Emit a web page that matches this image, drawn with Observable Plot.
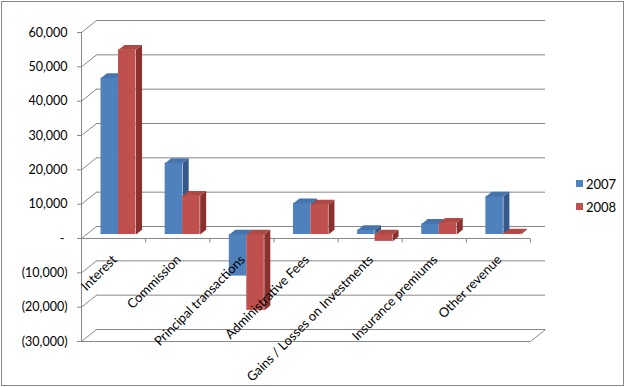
<!DOCTYPE html>
<html><head><meta charset="utf-8">
<script src="https://cdn.jsdelivr.net/npm/d3@7"></script>
<script src="https://cdn.jsdelivr.net/npm/@observablehq/plot@0.6"></script>
<style>
html,body{margin:0;padding:0;background:#fff;}
#wrap{position:relative;width:626px;height:387px;overflow:hidden;font-family:Lato,"Open Sans",sans-serif;background:#fff;}
#chart{position:absolute;left:0;top:0;}
#border{position:absolute;left:1px;top:1px;width:623px;height:385px;box-sizing:border-box;border:1px solid #878787;pointer-events:none;}
#legend{position:absolute;left:576px;top:172px;font-size:13px;color:#000;}
#legend .item{display:flex;align-items:center;height:23px;}
#legend .sw{width:7px;height:7px;margin-right:3px;}
</style></head>
<body><div id="wrap"><div id="chart"></div><div id="legend"></div><div id="border"></div></div>
<script>
// ---- data ----
const categories = ["Interest","Commission","Principal transactions","Administrative Fees","Gains / Losses on Investments","Insurance premiums","Other revenue"];
const seriesNames = ["2007","2008"];
const values2007 = [45600, 20800, -12100, 9100, 1300, 3100, 11100];
const values2008 = [53800, 11300, -22100, 8700, -2000, 3400, 300];
const yTicks = [-30000,-20000,-10000,0,10000,20000,30000,40000,50000,60000];

// ---- style / layout ----
const W = 626, H = 387;
const mL = 81, mR = 96, mT = 32, mB = 46;
const yMin = -30000, yMax = 60000, nCat = categories.length;
const pxPerX = (W - mL - mR) / nCat;
const pxPerY = (H - mT - mB) / (yMax - yMin);
const DXU = 15 / pxPerX, DYU = 12 / pxPerY;   // wall depth in data units
const DF = 0.33, DB = 0.73;                    // bar front/back depth fraction
const BW = 17.5 / pxPerX;                      // bar width
const GAP = (1 - 2 * BW) / 2;
const gridColor = "#878787";
const faceColors = [
  {front: "#4F81BD", top: "#4675AD", side: "#34598A"},
  {front: "#C0504D", top: "#B04845", side: "#8A302E"}
];

function buildFaces(vals, s) {
  const front = [], top = [], side = [];
  const fx = DF * DXU, fy = DF * DYU, bx = DB * DXU, by = DB * DYU;
  vals.forEach((v, i) => {
    const x0 = i + GAP + s * BW, x1 = x0 + BW;
    front.push({x1: x0 + fx, x2: x1 + fx, y1: fy, y2: v + fy});
    const yt = Math.max(v, 0);
    top.push({id: i, x: x0 + fx, y: yt + fy}, {id: i, x: x1 + fx, y: yt + fy}, {id: i, x: x1 + bx, y: yt + by}, {id: i, x: x0 + bx, y: yt + by});
    side.push({id: i, x: x1 + fx, y: fy}, {id: i, x: x1 + fx, y: v + fy}, {id: i, x: x1 + bx, y: v + by}, {id: i, x: x1 + bx, y: by});
  });
  return {front, top, side};
}

function barMarks(vals, s) {
  const f = buildFaces(vals, s), c = faceColors[s];
  return [
    Plot.rect(f.front, {x1: "x1", x2: "x2", y1: "y1", y2: "y2", fill: c.front}),
    Plot.line(f.top, {x: "x", y: "y", z: "id", fill: c.top, stroke: "none", curve: "linear-closed"}),
    Plot.line(f.side, {x: "x", y: "y", z: "id", fill: c.side, stroke: "none", curve: "linear-closed"})
  ];
}

const fmt = d3.format(",");
const tickFormat = d => d === 0 ? "-\u00a0" : d < 0 ? `(${fmt(-d)})` : fmt(d);
const boundaries = d3.range(1, nCat + 1);

const chart = Plot.plot({
  width: W, height: H,
  marginLeft: mL, marginRight: mR, marginTop: mT, marginBottom: mB,
  x: {domain: [0, nCat], axis: null},
  y: {domain: [yMin, yMax], axis: null},
  style: {fontFamily: "Lato, 'Open Sans', sans-serif", background: "transparent", overflow: "visible"},
  marks: [
    // back wall gridlines
    Plot.ruleY(yTicks, {y: d => d + DYU, x1: DXU, x2: nCat + DXU, stroke: gridColor}),
    // left wall diagonals
    Plot.link(yTicks, {x1: 0, y1: d => d, x2: DXU, y2: d => d + DYU, stroke: gridColor}),
    // floor front edge and right edge
    Plot.ruleY([yMin], {x1: 0, x2: nCat, stroke: gridColor}),
    Plot.link([yMin], {x1: nCat, y1: d => d, x2: nCat + DXU, y2: d => d + DYU, stroke: gridColor}),
    // front vertical axis line
    Plot.ruleX([0], {y1: yMin, y2: yMax, stroke: gridColor}),
    // category axis at zero
    Plot.ruleY([0], {x1: 0, x2: nCat, stroke: gridColor}),
    Plot.link(boundaries, {x1: d => d, x2: d => d, y1: 0, y2: -4 / pxPerY, stroke: gridColor}),
    // y axis
    Plot.axisY(yTicks, {tickFormat, tickSize: 4, tickPadding: 10, stroke: gridColor, fill: "#000", fontSize: 12.5, label: null}),
    // bars
    ...barMarks(values2007, 0),
    ...barMarks(values2008, 1),
    // category labels
    Plot.text(categories, {x: (d, i) => i + 0.5, y: 0, text: d => d, rotate: -45, textAnchor: "end", dx: 1, dy: 19, fontSize: 13, fill: "#000"})
  ]
});
document.getElementById("chart").appendChild(chart);

// legend
const legend = document.getElementById("legend");
seriesNames.forEach((name, s) => {
  const item = document.createElement("div");
  item.className = "item";
  const sw = document.createElement("span");
  sw.className = "sw";
  sw.style.background = faceColors[s].front;
  const t = document.createElement("span");
  t.textContent = name;
  item.appendChild(sw); item.appendChild(t);
  legend.appendChild(item);
});
</script>
</body></html>
